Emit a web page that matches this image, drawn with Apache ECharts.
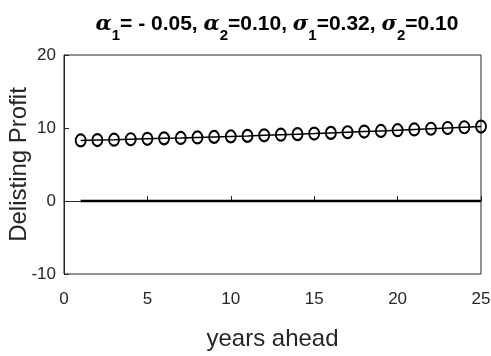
<!DOCTYPE html>
<html><head><meta charset="utf-8">
<script src="https://cdn.jsdelivr.net/npm/echarts@6/dist/echarts.min.js"></script>
<style>html,body{margin:0;padding:0;background:#fff}#c{width:491px;height:356px}</style>
</head><body><div id="c"></div>
<script>
var years = [1,2,3,4,5,6,7,8,9,10,11,12,13,14,15,16,17,18,19,20,21,22,23,24,25];
var profit = [8.30,8.35,8.40,8.46,8.52,8.58,8.64,8.71,8.78,8.85,8.92,9.00,9.08,9.16,9.24,9.33,9.42,9.51,9.60,9.70,9.80,9.90,10.00,10.10,10.20];
var zeroX = [1,25];
var zeroY = [0,0];
var xTicks = [0,5,10,15,20,25];
var yTicks = [-10,0,10,20];

var chart = echarts.init(document.getElementById('c'), null, {renderer:'canvas'});
var sans = '"Liberation Sans",Arial,sans-serif';
chart.setOption({
  animation:false,
  backgroundColor:'#fff',
  title:{
    text:'{g|α}{s|1}{b|= - 0.05, }{g|α}{s|2}{b|=0.10, }{g|σ}{s|1}{b|=0.32, }{g|σ}{s|2}{b|=0.10}',
    left:272, top:9, textAlign:'center',
    textStyle:{
      rich:{
        g:{fontFamily:'"DejaVu Serif","Liberation Serif",serif',fontStyle:'italic',fontWeight:'bold',fontSize:21,color:'#000',verticalAlign:'top',padding:[0,0,0,0]},
        s:{fontFamily:sans,fontWeight:'bold',fontSize:15,color:'#000',padding:[14,0,0,0],verticalAlign:'top'},
        b:{fontFamily:sans,fontWeight:'bold',fontSize:21,color:'#000',verticalAlign:'top'}
      }
    }
  },
  grid:{left:64,right:10,top:55,bottom:82,containLabel:false,outerBoundsMode:'none',show:true,borderColor:'#262626',borderWidth:1,backgroundColor:'transparent'},
  xAxis:{
    type:'value',min:0,max:25,interval:5,
    name:'years ahead',nameLocation:'middle',nameGap:53,nameMoveOverlap:false,
    nameTextStyle:{fontFamily:sans,fontSize:24,color:'#262626'},
    axisLine:{show:true,lineStyle:{color:'#262626',width:1}},
    axisTick:{show:true,inside:true,length:5,lineStyle:{color:'#262626'}},
    axisLabel:{fontFamily:sans,fontSize:17,color:'#262626',margin:17,
      formatter:function(v){return xTicks.indexOf(v)>=0?String(v):'';}},
    splitLine:{show:false}
  },
  yAxis:{
    type:'value',min:-10,max:20,interval:10,
    name:'Delisting Profit',nameLocation:'middle',nameGap:33,nameRotate:90,nameMoveOverlap:false,
    nameTextStyle:{fontFamily:sans,fontSize:24,color:'#262626'},
    axisLine:{show:true,lineStyle:{color:'#262626',width:1}},
    axisTick:{show:true,inside:true,length:5,lineStyle:{color:'#262626'}},
    axisLabel:{fontFamily:sans,fontSize:17,color:'#262626',margin:8,
      formatter:function(v){return yTicks.indexOf(v)>=0?String(v):'';}},
    splitLine:{show:false}
  },
  series:[
    {type:'line',data:years.map(function(x,i){return [x,profit[i]];}),
     symbol:'circle',symbolSize:[10,12],showAllSymbol:true,
     itemStyle:{color:'rgba(255,255,255,0)',borderColor:'#000',borderWidth:2},
     lineStyle:{color:'#000',width:1.5},z:3},
    {type:'line',data:zeroX.map(function(x,i){return [x,zeroY[i]];}),
     symbol:'none',lineStyle:{color:'#000',width:2.5},z:2}
  ]
});
</script></body></html>
